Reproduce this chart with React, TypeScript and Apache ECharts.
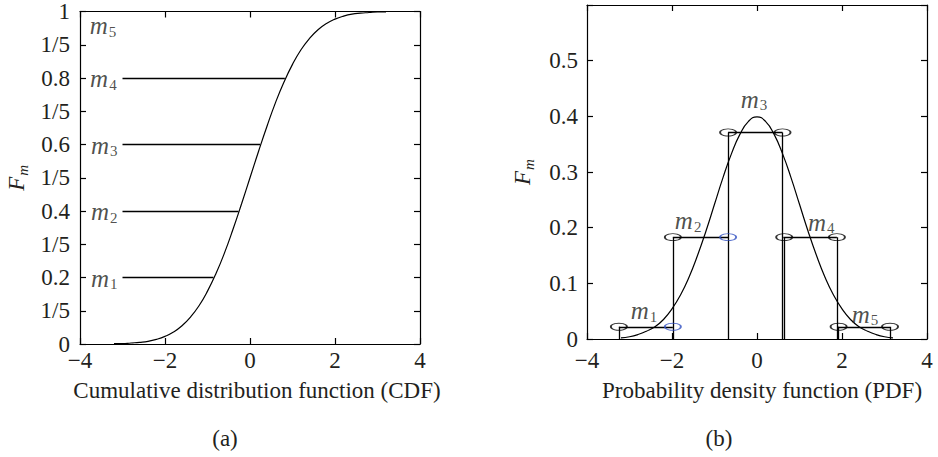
import React, { useEffect, useRef } from "react";
import * as echarts from "echarts";

// ---- data ----
const sampleX = [
  -3.2, -3.0, -2.8, -2.6, -2.4, -2.2, -2.0, -1.8, -1.6, -1.4, -1.2, -1.0, -0.8, -0.6, -0.4, -0.2, 0,
  0.2, 0.4, 0.6, 0.8, 1.0, 1.2, 1.4, 1.6, 1.8, 2.0, 2.2, 2.4, 2.6, 2.8, 3.0, 3.2,
];
const cdfY = [
  0.001, 0.001, 0.003, 0.005, 0.008, 0.014, 0.023, 0.036, 0.055, 0.081, 0.115, 0.159, 0.212, 0.274, 0.345, 0.421, 0.5,
  0.579, 0.655, 0.726, 0.788, 0.841, 0.885, 0.919, 0.945, 0.964, 0.977, 0.986, 0.992, 0.995, 0.997, 0.999, 0.999,
];
const pdfY = [
  0.002, 0.004, 0.008, 0.014, 0.022, 0.035, 0.054, 0.079, 0.111, 0.15, 0.194, 0.242, 0.29, 0.333, 0.368, 0.391, 0.399,
  0.391, 0.368, 0.333, 0.29, 0.242, 0.194, 0.15, 0.111, 0.079, 0.054, 0.035, 0.022, 0.014, 0.008, 0.004, 0.002,
];

const xTickLabels = ["−4", "−2", "0", "2", "4"];
const cdfTickLabels = ["0", "1/5", "0.2", "1/5", "0.4", "1/5", "0.6", "1/5", "0.8", "1/5", "1"];
const pdfTickLabels = ["0", "0.1", "0.2", "0.3", "0.4", "0.5", ""];

// (a) CDF thresholds
const cdfLevels = [0.2, 0.4, 0.6, 0.8];
const cdfLevelStart = -3.0;
const cdfLevelEnd = [-0.86, -0.27, 0.24, 0.82];
const cdfLabelIdx = ["1", "2", "3", "4", "5"];
const cdfLabelX = [-3.43, -3.43, -3.43, -3.45, -3.46];
const cdfLabelY = [0.2, 0.4, 0.6, 0.8, 0.958];

// (b) PDF reconstruction levels
const pdfLevelY = [0.022, 0.183, 0.371, 0.183, 0.022];
const pdfLevelStart = [-3.25, -1.98, -0.68, 0.62, 1.9];
const pdfLevelEnd = [-1.98, -0.68, 0.6, 1.88, 3.13];
const pdfVertX = [-3.25, -1.98, -0.68, 0.6, 0.64, 1.88, 1.9, 3.13];
const pdfVertTop = [0.022, 0.183, 0.371, 0.371, 0.183, 0.183, 0.022, 0.022];
const blackCircleX = [-3.25, -1.98, -0.68, 0.6, 0.64, 1.88, 1.92, 3.13];
const blackCircleY = [0.022, 0.183, 0.371, 0.371, 0.183, 0.183, 0.022, 0.022];
const blueCircleX = [-1.98, -0.68];
const blueCircleY = [0.022, 0.183];
const pdfLabelIdx = ["1", "2", "3", "4", "5"];
const pdfLabelX = [-2.66, -1.62, -0.07, 1.51, 2.54];
const pdfLabelY = [0.052, 0.213, 0.432, 0.211, 0.045];

const FONT = "'Liberation Serif', 'Times New Roman', serif";
const TXT = "#231f20";

const richM = {
  m: { fontFamily: FONT, fontSize: 25, fontStyle: "italic", color: TXT, lineHeight: 24, verticalAlign: "top" },
  s: { fontFamily: FONT, fontSize: 15, color: TXT, lineHeight: 15, verticalAlign: "top", padding: [11, 0, 0, 1] },
};
const richF = {
  F: { fontFamily: FONT, fontSize: 23, fontStyle: "italic", color: TXT, lineHeight: 22, verticalAlign: "top" },
  s: { fontFamily: FONT, fontSize: 15, fontStyle: "italic", color: TXT, lineHeight: 14, verticalAlign: "top", padding: [10, 0, 0, 1] },
};

function buildOption() {
  const axisLine = { show: true, onZero: false, lineStyle: { color: "#000", width: 1.2 } };
  const tick = { show: true, inside: true, length: 6, lineStyle: { color: "#000", width: 1.2 } };
  const lbl = { fontFamily: FONT, fontSize: 23, color: TXT };

  const xBase = (grid: number) => ({
    gridIndex: grid,
    type: "value",
    min: -4,
    max: 4,
    interval: 2,
    axisLine,
    axisTick: tick,
    splitLine: { show: false },
  });
  const xAxis = [
    {
      ...xBase(0),
      position: "bottom",
      axisLabel: { ...lbl, margin: 5, formatter: (v: number) => xTickLabels[Math.round((v + 4) / 2)] },
      name: "Cumulative distribution function (CDF)",
      nameLocation: "middle",
      nameGap: 35,
      nameTextStyle: { ...lbl, padding: [0, 0, 0, 14] },
    },
    { ...xBase(0), position: "top", axisLabel: { show: false } },
    {
      ...xBase(1),
      position: "bottom",
      axisLabel: { ...lbl, margin: 10, formatter: (v: number) => xTickLabels[Math.round((v + 4) / 2)] },
      name: "Probability density function (PDF)",
      nameLocation: "middle",
      nameGap: 40,
      nameTextStyle: { ...lbl, padding: [0, 0, 0, 10] },
    },
    { ...xBase(1), position: "top", axisLabel: { show: false } },
  ];

  const yAxis = [
    {
      gridIndex: 0,
      type: "value",
      min: 0,
      max: 1,
      interval: 0.1,
      position: "left",
      axisLine,
      axisTick: tick,
      splitLine: { show: false },
      axisLabel: { ...lbl, margin: 10, formatter: (v: number) => cdfTickLabels[Math.round(v * 10)] },
      name: "{F|F}{s|m}",
      nameLocation: "middle",
      nameRotate: 90,
      nameGap: 53,
      nameTextStyle: { rich: richF },
    },
    {
      gridIndex: 0,
      type: "value",
      min: 0,
      max: 1,
      interval: 0.1,
      position: "right",
      axisLine,
      axisTick: tick,
      splitLine: { show: false },
      axisLabel: { show: false },
    },
    {
      gridIndex: 1,
      type: "value",
      min: 0,
      max: 0.6,
      interval: 0.1,
      position: "left",
      axisLine,
      axisTick: tick,
      splitLine: { show: false },
      axisLabel: { ...lbl, margin: 9, formatter: (v: number) => pdfTickLabels[Math.round(v * 10)] },
      name: "{F|F}{s|m}",
      nameLocation: "middle",
      nameRotate: 90,
      nameGap: 54,
      nameTextStyle: { rich: richF },
    },
    {
      gridIndex: 1,
      type: "value",
      min: 0,
      max: 0.6,
      interval: 0.1,
      position: "right",
      axisLine,
      axisTick: tick,
      splitLine: { show: false },
      axisLabel: { show: false },
    },
  ];

  const labelSeries = (xi: number, yi: number, xs: number[], ys: number[], idx: string[]) => ({
    type: "scatter",
    xAxisIndex: xi,
    yAxisIndex: yi,
    symbolSize: 1,
    itemStyle: { color: "transparent" },
    silent: true,
    z: 5,
    data: xs.map((x, i) => [x, ys[i], idx[i]]),
    label: {
      show: true,
      position: "inside",
      formatter: (p: any) => `{m|m}{s|${p.value[2]}}`,
      rich: richM,
    },
  });

  const series: any[] = [
    {
      type: "line",
      xAxisIndex: 0,
      yAxisIndex: 0,
      data: sampleX.map((x, i) => [x, cdfY[i]]),
      smooth: true,
      showSymbol: false,
      lineStyle: { color: "#000", width: 1.2 },
    },
    {
      type: "lines",
      coordinateSystem: "cartesian2d",
      xAxisIndex: 0,
      yAxisIndex: 0,
      data: cdfLevels.map((y, i) => ({ coords: [[cdfLevelStart, y], [cdfLevelEnd[i], y]] })),
      lineStyle: { color: "#000", width: 1.3, opacity: 1, curveness: 0 },
    },
    labelSeries(0, 0, cdfLabelX, cdfLabelY, cdfLabelIdx),
    {
      type: "line",
      xAxisIndex: 2,
      yAxisIndex: 2,
      data: sampleX.map((x, i) => [x, pdfY[i]]),
      smooth: true,
      showSymbol: false,
      lineStyle: { color: "#000", width: 1.2 },
    },
    {
      type: "lines",
      coordinateSystem: "cartesian2d",
      xAxisIndex: 2,
      yAxisIndex: 2,
      data: [
        ...pdfLevelY.map((y, i) => ({ coords: [[pdfLevelStart[i], y], [pdfLevelEnd[i], y]] })),
        ...pdfVertX.map((x, i) => ({ coords: [[x, 0], [x, pdfVertTop[i]]] })),
      ],
      lineStyle: { color: "#000", width: 1.3, opacity: 1, curveness: 0 },
    },
    {
      type: "scatter",
      xAxisIndex: 2,
      yAxisIndex: 2,
      symbol: "circle",
      symbolSize: [16, 7],
      z: 4,
      itemStyle: { color: "transparent", borderColor: "#000", borderWidth: 1.3 },
      data: blackCircleX.map((x, i) => [x, blackCircleY[i]]),
    },
    {
      type: "scatter",
      xAxisIndex: 2,
      yAxisIndex: 2,
      symbol: "circle",
      symbolSize: [16, 7],
      z: 4,
      itemStyle: { color: "transparent", borderColor: "#2f4fc0", borderWidth: 1.3 },
      data: blueCircleX.map((x, i) => [x, blueCircleY[i]]),
    },
    labelSeries(2, 2, pdfLabelX, pdfLabelY, pdfLabelIdx),
  ];

  return {
    animation: false,
    backgroundColor: "#fff",
    grid: [
      { left: 80, top: 10, width: 340, height: 334 },
      { left: 587, top: 5, width: 340, height: 334 },
    ],
    xAxis,
    yAxis,
    series,
    graphic: [
      { type: "text", x: 225, y: 438, style: { text: "(a)", font: `23px ${FONT}`, fill: TXT, textAlign: "center", textVerticalAlign: "middle" } },
      { type: "text", x: 719, y: 438, style: { text: "(b)", font: `23px ${FONT}`, fill: TXT, textAlign: "center", textVerticalAlign: "middle" } },
    ],
  };
}

export default function App() {
  const ref = useRef<HTMLDivElement>(null);
  useEffect(() => {
    if (!ref.current) return;
    const chart = echarts.init(ref.current, undefined, { renderer: "svg" });
    chart.setOption(buildOption() as any);
    return () => chart.dispose();
  }, []);
  return <div ref={ref} style={{ position: "absolute", left: 0, top: 0, width: 938, height: 457 }} />;
}
